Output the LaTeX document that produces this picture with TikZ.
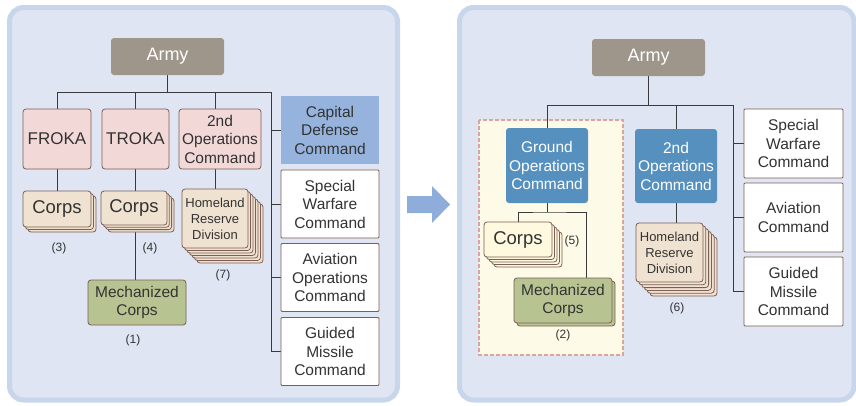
\documentclass[tikz,border=0pt]{standalone}
\usepackage{fontspec}
\setmainfont{Liberation Sans}
\usetikzlibrary{shadows,backgrounds}

\definecolor{panelfill}{HTML}{DFE5F2}
\definecolor{paneledge}{HTML}{C8D6EC}
\definecolor{ink}{HTML}{333333}
\definecolor{wire}{HTML}{3A3A3A}
\definecolor{edge}{HTML}{7D5D54}
\definecolor{armyfill}{HTML}{9E968B}
\definecolor{pinkfill}{HTML}{F2D8D7}
\definecolor{beige}{HTML}{F0E2D0}
\definecolor{olive}{HTML}{B7C492}
\definecolor{capblue}{HTML}{95B3DC}
\definecolor{steel}{HTML}{5590BF}
\definecolor{cream}{HTML}{FEF9DF}
\definecolor{zonefill}{HTML}{FEFAE8}
\definecolor{zoneedge}{HTML}{DDA49B}
\definecolor{arrowfill}{HTML}{8EADDB}

\tikzset{
  box/.style={draw=edge, line width=0.8pt, rounded corners=3pt, align=center, inner sep=0pt,
    text=ink, font=\fontsize{15.5}{18.5}\selectfont},
  armybox/.style={box, draw=none, fill=armyfill, text=white, minimum width=113, minimum height=37,
    font=\fontsize{18}{20}\selectfont},
  regbox/.style={box, fill=pinkfill, minimum height=60},
  cmdbox/.style={box, fill=white, rounded corners=1pt, minimum width=98, minimum height=68},
  bluebox/.style={box, draw=none, fill=steel, text=white, minimum width=82},
  corpsbox/.style={box, fill=beige, font=\fontsize{18.5}{20}\selectfont},
  mechbox/.style={box, fill=olive, minimum width=98, minimum height=45},
  homebox/.style={box, fill=beige, minimum width=66, minimum height=59, font=\fontsize{13}{16}\selectfont},
  lay/.style 2 args={copy shadow={fill=#1, draw=edge, shadow xshift=#2, shadow yshift=-#2}},
  count/.style={text=ink, font=\fontsize{12}{13}\selectfont},
  link/.style={draw=wire, line width=0.9pt},
  panel/.style={fill=panelfill, draw=paneledge, line width=5pt, rounded corners=14pt}
}

\begin{document}
\begin{tikzpicture}[x=1pt,y=-1pt]
  %\draw[gray] (0,0) grid[step=20] (856,405);
  \useasboundingbox (0,0) rectangle (856,405);

  \begin{scope}[on background layer]
    \draw[panel] (9.5,7.5) rectangle (397.5,400);
    \draw[panel] (459.5,7.5) rectangle (854,400);
    \fill[arrowfill] (407,196) -- (432,196) -- (432,186) -- (450,204.5) -- (432,223) -- (432,213) -- (407,213) -- cycle;
    \draw[fill=zonefill, draw=zoneedge, line width=1.2pt, dash pattern=on 4pt off 2pt] (479,120) rectangle (623,355);
  \end{scope}

  % before
  \node[armybox] (armyL) at (167.5,56.5) {Army};
  \node[regbox, minimum width=68, font=\fontsize{17}{20}\selectfont] (froka) at (57,139) {FROKA};
  \node[regbox, minimum width=67, font=\fontsize{17}{20}\selectfont] (troka) at (135.5,139) {TROKA};
  \node[regbox, minimum width=82] (opsL) at (220,139) {2nd\\Operations\\Command};
  \node[cmdbox, draw=none, fill=capblue, rounded corners=0pt] (capital) at (330,130) {Capital\\Defense\\Command};
  \node[cmdbox] (specialL) at (330,204) {Special\\Warfare\\Command};
  \node[cmdbox] (aviationL) at (330,277.5) {Aviation\\Operations\\Command};
  \node[cmdbox] (missileL) at (330,351.5) {Guided\\Missile\\Command};

  \node[corpsbox, minimum width=68, minimum height=36, lay={beige}{5pt}, lay={beige}{2.5pt}] (corpsF) at (57,209) {Corps};
  \node[corpsbox, minimum width=66, minimum height=34, lay={beige}{7pt}, lay={beige}{4.6pt}, lay={beige}{2.3pt}] (corpsT) at (134,208) {Corps};
  \node[mechbox] (mechL) at (137,302.5) {Mechanized\\Corps};
  \node[homebox, lay={beige}{15pt}, lay={beige}{12.5pt}, lay={beige}{10pt}, lay={beige}{7.5pt}, lay={beige}{5pt}, lay={beige}{2.5pt}] (homeL) at (215,218.5) {Homeland\\Reserve\\Division};

  \node[count] (n3) at (59,248) {(3)};
  \node[count] (n4) at (150,248) {(4)};
  \node[count] (n1) at (133,340) {(1)};
  \node[count] (n7) at (223,275) {(7)};

  % after
  \node[armybox] (armyR) at (648.5,57.5) {Army};
  \node[bluebox, minimum height=75] (ground) at (547,165.5) {Ground\\Operations\\Command};
  \node[bluebox, minimum height=74] (opsR) at (676,166) {2nd\\Operations\\Command};
  \node[cmdbox, minimum width=99, minimum height=69] (specialR) at (793.5,143.5) {Special\\Warfare\\Command};
  \node[cmdbox, minimum width=99, minimum height=69] (aviationR) at (793.5,217.5) {Aviation\\Command};
  \node[cmdbox, minimum width=99, minimum height=69] (missileR) at (793.5,291.5) {Guided\\Missile\\Command};

  \node[corpsbox, fill=cream, minimum width=68, minimum height=35, lay={cream}{10pt}, lay={cream}{7.5pt}, lay={cream}{5pt}, lay={cream}{2.5pt}] (corpsR) at (518,239.5) {Corps};
  \node[mechbox, lay={olive}{3pt}] (mechR) at (563,300.5) {Mechanized\\Corps};
  \node[homebox, minimum width=67, lay={beige}{14pt}, lay={beige}{11.2pt}, lay={beige}{8.4pt}, lay={beige}{5.6pt}, lay={beige}{2.8pt}] (homeR) at (669.5,252.5) {Homeland\\Reserve\\Division};

  \node[count] (n5) at (572,241) {(5)};
  \node[count] (n2) at (563,335) {(2)};
  \node[count] (n6) at (677,308) {(6)};

  \coordinate (busL) at (167.5,92);
  \coordinate (spineL) at (271,92);
  \coordinate (busR) at (648.5,105);
  \coordinate (spineR) at (733,105);
  \coordinate (forkR) at (547,212);

  \begin{scope}[on background layer]
    \draw[link] (armyL) -- (busL) -- (spineL);
    \draw[link] (froka.north) |- (busL) (troka.north) |- (busL) (opsL.north -| homeL.north) |- (busL);
    \draw[link] (capital.west) -| (spineL) (specialL.west) -| (spineL) (aviationL.west) -| (spineL) (missileL.west) -| (spineL);
    \draw[link] (froka) -- (corpsF);
    \draw[link] (troka.south) -- (troka.south |- mechL.north);
    \draw[link] (homeL.north) -- (homeL.north |- opsL.south);

    \draw[link] (armyR) -- (busR) -- (spineR);
    \draw[link] (ground.north) |- (busR) (opsR.north) |- (busR);
    \draw[link] (specialR.west) -| (spineR) (aviationR.west) -| (spineR) (missileR.west) -| (spineR);
    \draw[link] (ground) -- (forkR);
    \draw[link] (corpsR.north) |- (forkR) -| ([xshift=23pt]mechR.north);
    \draw[link] (opsR.south) -- (opsR.south |- homeR.north);
  \end{scope}
\end{tikzpicture}
\end{document}
